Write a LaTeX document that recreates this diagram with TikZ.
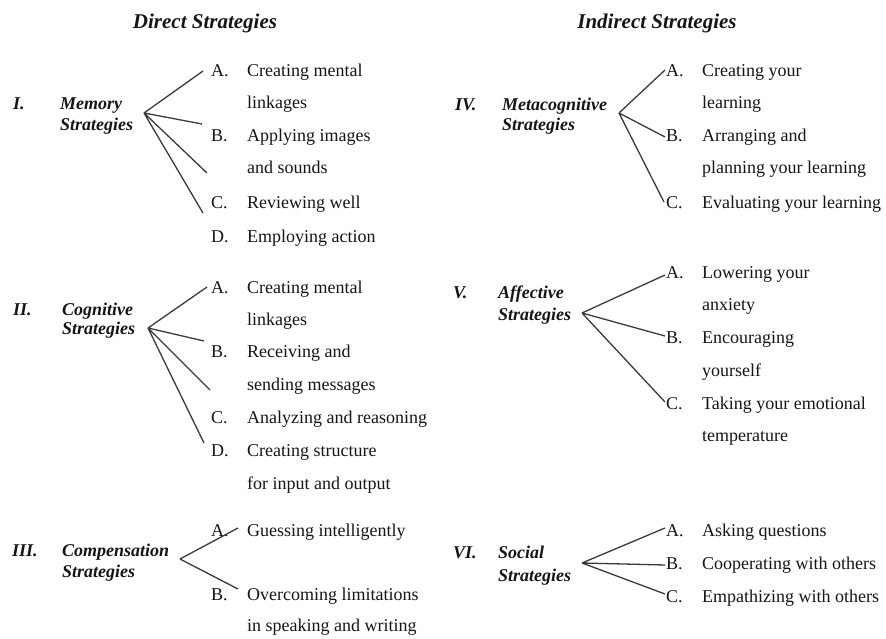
\documentclass[tikz,border=0pt]{standalone}
\usepackage{fontspec}
\setmainfont{Liberation Serif}
\definecolor{ink}{HTML}{151515}
\definecolor{linec}{HTML}{3A3A3A}
\begin{document}
\begin{tikzpicture}[x=1pt,y=-1pt,
  item/.style={font=\fontsize{18}{20}\selectfont, anchor=base west, inner sep=0pt, text=ink},
  cat/.style={font=\fontsize{18}{20}\selectfont\bfseries\itshape, anchor=base west, inner sep=0pt, text=ink},
  ttl/.style={font=\fontsize{21}{23}\selectfont\bfseries\itshape, anchor=base, inner sep=0pt, text=ink},
  fan/.style={draw=linec, line width=1.3pt}]
\useasboundingbox (0,0) rectangle (886,639);

% titles
\node[ttl] (tdir) at (205,29) {Direct Strategies};
\node[ttl] (tind) at (657,29) {Indirect Strategies};

% ---------- I. Memory ----------
\node[cat] (n1) at (13,110) {I.};
\node[cat] (c1a) at (60,110) {Memory};
\node[cat] (c1b) at (60,131) {Strategies};
\coordinate (f1) at (144,113);
\coordinate (e1a) at (203,71);
\coordinate (e1b) at (202,124);
\coordinate (e1c) at (207,173);
\coordinate (e1d) at (203,213);
\node[item] (l1a) at (211,77) {A.};
\node[item] (t1a1) at (247,77) {Creating mental};
\node[item] (t1a2) at (247,109) {linkages};
\node[item] (l1b) at (211,142) {B.};
\node[item] (t1b1) at (247,142) {Applying images};
\node[item] (t1b2) at (247,174) {and sounds};
\node[item] (l1c) at (211,208) {C.};
\node[item] (t1c1) at (247,208) {Reviewing well};
\node[item] (l1d) at (211,242) {D.};
\node[item] (t1d1) at (247,242) {Employing action};
\draw[fan] (f1) -- (e1a) (f1) -- (e1b) (f1) -- (e1c) (f1) -- (e1d);

% ---------- II. Cognitive ----------
\node[cat] (n2) at (13,315) {II.};
\node[cat] (c2a) at (62,315) {Cognitive};
\node[cat] (c2b) at (62,334) {Strategies};
\coordinate (f2) at (148,328);
\coordinate (e2a) at (207,287);
\coordinate (e2b) at (204,341);
\coordinate (e2c) at (210,390);
\coordinate (e2d) at (204,443);
\node[item] (l2a) at (211,293) {A.};
\node[item] (t2a1) at (247,293) {Creating mental};
\node[item] (t2a2) at (247,325) {linkages};
\node[item] (l2b) at (211,357) {B.};
\node[item] (t2b1) at (247,357) {Receiving and};
\node[item] (t2b2) at (247,390) {sending messages};
\node[item] (l2c) at (211,423) {C.};
\node[item] (t2c1) at (247,423) {Analyzing and reasoning};
\node[item] (l2d) at (211,456) {D.};
\node[item] (t2d1) at (247,456) {Creating structure};
\node[item] (t2d2) at (247,489) {for input and output};
\draw[fan] (f2) -- (e2a) (f2) -- (e2b) (f2) -- (e2c) (f2) -- (e2d);

% ---------- III. Compensation ----------
\node[cat] (n3) at (12,556) {III.};
\node[cat] (c3a) at (62,556) {Compensation};
\node[cat] (c3b) at (62,577) {Strategies};
\coordinate (f3) at (180,559);
\coordinate (e3a) at (238,528);
\coordinate (e3b) at (238,589);
\node[item] (l3a) at (211,536) {A.};
\node[item] (t3a1) at (247,536) {Guessing intelligently};
\node[item] (l3b) at (211,600) {B.};
\node[item] (t3b1) at (247,600) {Overcoming limitations};
\node[item] (t3b2) at (247,631) {in speaking and writing};
\draw[fan] (f3) -- (e3a) (f3) -- (e3b);

% ---------- IV. Metacognitive ----------
\node[cat] (n4) at (455,111) {IV.};
\node[cat] (c4a) at (502,111) {Metacognitive};
\node[cat] (c4b) at (502,131) {Strategies};
\coordinate (f4) at (619,113);
\coordinate (e4a) at (665,70);
\coordinate (e4b) at (665,137);
\coordinate (e4c) at (664,202);
\node[item] (l4a) at (666,77) {A.};
\node[item] (t4a1) at (702,77) {Creating your};
\node[item] (t4a2) at (702,109) {learning};
\node[item] (l4b) at (666,142) {B.};
\node[item] (t4b1) at (702,142) {Arranging and};
\node[item] (t4b2) at (702,174) {planning your learning};
\node[item] (l4c) at (666,208) {C.};
\node[item] (t4c1) at (702,208) {Evaluating your learning};
\draw[fan] (f4) -- (e4a) (f4) -- (e4b) (f4) -- (e4c);

% ---------- V. Affective ----------
\node[cat] (n5) at (453,298) {V.};
\node[cat] (c5a) at (498,298) {Affective};
\node[cat] (c5b) at (498,320) {Strategies};
\coordinate (f5) at (582,313);
\coordinate (e5a) at (665,275);
\coordinate (e5b) at (665,336);
\coordinate (e5c) at (665,402);
\node[item] (l5a) at (666,278) {A.};
\node[item] (t5a1) at (702,278) {Lowering your};
\node[item] (t5a2) at (702,310) {anxiety};
\node[item] (l5b) at (666,343) {B.};
\node[item] (t5b1) at (702,343) {Encouraging};
\node[item] (t5b2) at (702,376) {yourself};
\node[item] (l5c) at (666,409) {C.};
\node[item] (t5c1) at (702,409) {Taking your emotional};
\node[item] (t5c2) at (702,441) {temperature};
\draw[fan] (f5) -- (e5a) (f5) -- (e5b) (f5) -- (e5c);

% ---------- VI. Social ----------
\node[cat] (n6) at (453,558) {VI.};
\node[cat] (c6a) at (498,558) {Social};
\node[cat] (c6b) at (498,581) {Strategies};
\coordinate (f6) at (582,563);
\coordinate (e6a) at (665,528);
\coordinate (e6b) at (665,565);
\coordinate (e6c) at (665,594);
\node[item] (l6a) at (666,536) {A.};
\node[item] (t6a1) at (702,536) {Asking questions};
\node[item] (l6b) at (666,569) {B.};
\node[item] (t6b1) at (702,569) {Cooperating with others};
\node[item] (l6c) at (666,602) {C.};
\node[item] (t6c1) at (702,602) {Empathizing with others};
\draw[fan] (f6) -- (e6a) (f6) -- (e6b) (f6) -- (e6c);
\end{tikzpicture}
\end{document}
